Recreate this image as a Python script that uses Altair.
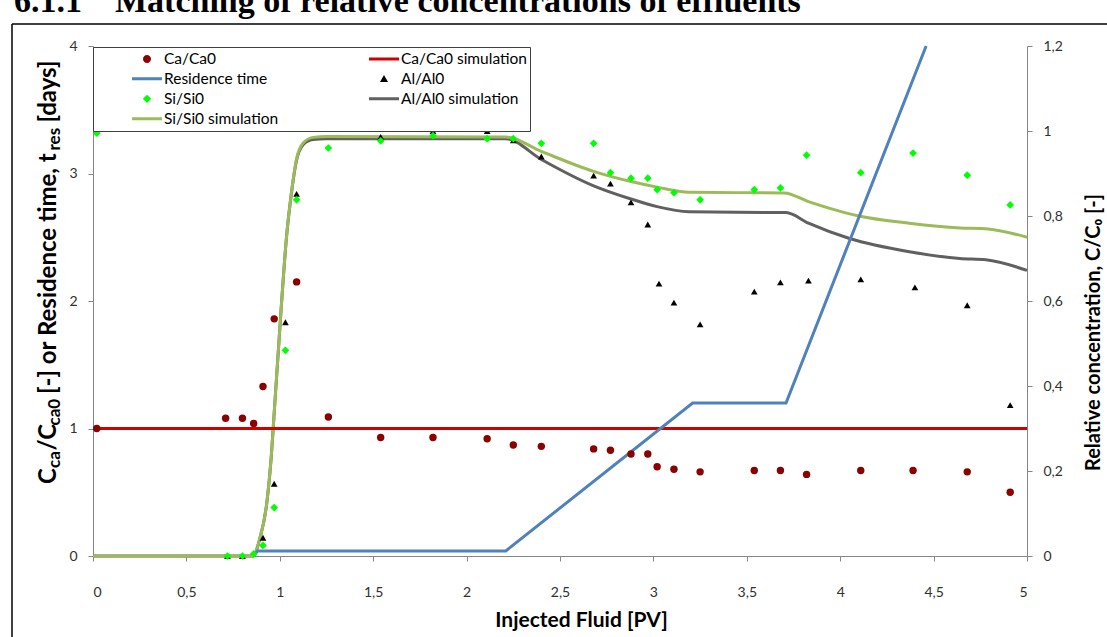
import altair as alt
import pandas as pd

FONT = "Lato"

# ---------------- data ----------------
ca_x = [0.02, 0.71, 0.80, 0.86, 0.91, 0.97, 1.09, 1.26, 1.54, 1.82, 2.11, 2.25, 2.40, 2.68,
        2.77, 2.88, 2.97, 3.02, 3.11, 3.25, 3.54, 3.68, 3.82, 4.11, 4.39, 4.68, 4.91]
ca_y = [1.00, 1.08, 1.08, 1.04, 1.33, 1.86, 2.15, 1.09, 0.93, 0.93, 0.92, 0.87, 0.86, 0.84,
        0.83, 0.80, 0.80, 0.70, 0.68, 0.66, 0.67, 0.67, 0.64, 0.67, 0.67, 0.66, 0.50]

si_x = [0.02, 0.72, 0.80, 0.86, 0.91, 0.97, 1.03, 1.09, 1.26, 1.54, 1.82, 2.11, 2.25, 2.40,
        2.68, 2.77, 2.88, 2.97, 3.02, 3.11, 3.25, 3.54, 3.68, 3.82, 4.11, 4.39, 4.68, 4.91]
si_y = [0.995, 0.0, 0.0, 0.005, 0.025, 0.114, 0.484, 0.838, 0.96, 0.977, 0.989, 0.982, 0.982,
        0.971, 0.971, 0.902, 0.889, 0.889, 0.862, 0.855, 0.838, 0.862, 0.866, 0.943, 0.902,
        0.948, 0.896, 0.826]

al_x = [0.72, 0.80, 0.91, 0.97, 1.03, 1.09, 1.54, 1.82, 2.11, 2.25, 2.40, 2.68, 2.77, 2.88,
        2.97, 3.03, 3.11, 3.25, 3.54, 3.68, 3.83, 4.11, 4.40, 4.68, 4.91]
al_y = [0.0, 0.0, 0.043, 0.17, 0.55, 0.852, 0.986, 1.0, 1.0, 0.978, 0.94, 0.895, 0.876, 0.832,
        0.78, 0.641, 0.596, 0.545, 0.622, 0.644, 0.648, 0.651, 0.632, 0.59, 0.355]

si_sim_x = [0, 0.857, 0.893, 0.929, 0.955, 0.973, 0.991, 1.009, 1.036, 1.062, 1.089, 1.125,
            1.178, 1.25, 2.21, 2.40, 2.68, 2.88, 3.02, 3.19, 3.70, 3.83, 4.10, 4.37, 4.64,
            4.78, 5.0]
si_sim_y = [0, 0, 0.041, 0.12, 0.238, 0.357, 0.475, 0.593, 0.751, 0.854, 0.933, 0.972,
            0.985, 0.987, 0.986, 0.952, 0.905, 0.881, 0.868, 0.856, 0.854, 0.834, 0.800,
            0.783, 0.772, 0.770, 0.750]

al_sim_x = [0, 0.857, 0.893, 0.929, 0.955, 0.973, 0.991, 1.009, 1.036, 1.062, 1.089, 1.125,
            1.178, 1.25, 2.21, 2.40, 2.68, 2.88, 3.02, 3.19, 3.71, 3.83, 4.05, 4.37, 4.64,
            4.78, 5.0]
al_sim_y = [0, 0, 0.041, 0.12, 0.238, 0.357, 0.475, 0.593, 0.751, 0.853, 0.930, 0.968,
            0.980, 0.982, 0.982, 0.933, 0.871, 0.840, 0.822, 0.810, 0.808, 0.783, 0.747,
            0.716, 0.700, 0.697, 0.672]

res_x = [0.86, 0.88, 2.21, 3.21, 3.71, 4.46]
res_y = [0.0, 0.04, 0.04, 1.2, 1.2, 4.0]

ca_sim_x = [0.0, 5.0]
ca_sim_y = [1.0, 1.0]

x_ticks = [0, 0.5, 1, 1.5, 2, 2.5, 3, 3.5, 4, 4.5, 5]
left_ticks = [0, 1, 2, 3, 4]
right_ticks = [0, 0.2, 0.4, 0.6, 0.8, 1.0, 1.2]

# legend entries, in column order (left column first)
leg_names = ["Ca/Ca0", "Residence time", "Si/Si0", "Si/Si0 simulation",
             "Ca/Ca0 simulation", "Al/Al0", "Al/Al0 simulation"]
leg_colors = ["#8B0000", "#4F81BD", "#00FF00", "#9BBB59", "#D00000", "#000000", "#606060"]

# ---------------- styling ----------------
C_CA_PT = "#8B0000"
C_CA_SIM = "#D00000"
C_RES = "#4F81BD"
C_SI_PT = "#00FF00"
C_SI_SIM = "#9BBB59"
C_AL_PT = "#000000"
C_AL_SIM = "#606060"
AXIS_GRAY = "#868686"

W, H = 934, 510


def df(xs, ys):
    return pd.DataFrame({"x": xs, "y": ys})


xscale = alt.Scale(domain=[0, 5], nice=False, zero=False)
lscale = alt.Scale(domain=[0, 4], nice=False, zero=False)
rscale = alt.Scale(domain=[0, 1.2], nice=False, zero=False)

common_axis = dict(grid=False, domainColor=AXIS_GRAY, tickColor=AXIS_GRAY, tickSize=5,
                   labelFont=FONT, labelFontSize=14, labelColor="#303030",
                   titleFont=FONT, titleColor="black", titleFontWeight="bold")

x_axis = alt.Axis(values=x_ticks, format=".1~f", labelExpr="replace(datum.label, '.', ',')",
                  labelPadding=24, title="Injected Fluid [PV]", titleFontSize=21,
                  titleX=488, titleY=64, titleBaseline="middle", titleAlign="center",
                  **common_axis)
X = alt.X("x:Q", scale=xscale, axis=x_axis)

left_axis = alt.Axis(orient="left", values=left_ticks, format="d", labelPadding=11,
                     title=None, **common_axis)
right_axis = alt.Axis(orient="right", values=right_ticks, format=".1~f",
                      labelExpr="replace(datum.label, '.', ',')", labelPadding=11,
                      title="Relative concentration, C/C\u2080 [-]", titleFontSize=20,
                      titleAngle=270, titleX=66, titleY=286, titleAlign="center",
                      titleBaseline="middle", **common_axis)
YL = alt.Y("y:Q", scale=lscale, axis=left_axis)
YR = alt.Y("y:Q", scale=rscale, axis=right_axis)

# --- lines on the right (relative concentration) axis
si_sim = alt.Chart(df(si_sim_x, si_sim_y)).mark_line(
    color=C_SI_SIM, strokeWidth=3, interpolate="monotone").encode(x=X, y=YR)
al_sim = alt.Chart(df(al_sim_x, al_sim_y)).mark_line(
    color=C_AL_SIM, strokeWidth=3, interpolate="monotone").encode(x=X, y=YR)
right_lines = alt.layer(al_sim, si_sim)

# --- lines on the left axis
ca_sim = alt.Chart(df(ca_sim_x, ca_sim_y)).mark_line(color=C_CA_SIM, strokeWidth=3).encode(
    x=X, y=YL)
res = alt.Chart(df(res_x, res_y)).mark_line(color=C_RES, strokeWidth=3).encode(x=X, y=YL)
left_lines = alt.layer(ca_sim, res)

# --- legend (symbols drawn by the legend itself)
LINE = "M0.104,-0.045L1,-0.045L1,0.045L0.104,0.045Z"
CIRC = "M0.672,0A0.12,0.12,0,1,1,0.432,0A0.12,0.12,0,1,1,0.672,0Z"
TRI = "M0.552,-0.115L0.672,0.095L0.432,0.095Z"
DIAM = "M0.552,-0.125L0.677,0L0.552,0.125L0.427,0Z"
leg_shapes = [CIRC, LINE, DIAM, LINE, LINE, TRI, LINE]
SYM = 4489

leg = alt.Legend(title=None, orient="none", legendX=0, legendY=1, columns=2,
                 columnPadding=53, rowPadding=0, clipHeight=19.7, padding=2,
                 strokeColor="#404040", fillColor="white", labelFont=FONT, labelFontSize=15.5,
                 labelColor="black", labelOffset=2, symbolSize=SYM, symbolStrokeWidth=0,
                 labelLimit=400, cornerRadius=0)
legend_layer = alt.Chart(pd.DataFrame({"series": leg_names})).mark_point(
    filled=True, opacity=1, size=SYM, strokeWidth=0).encode(
    color=alt.Color("series:N", scale=alt.Scale(domain=leg_names, range=leg_colors), legend=leg),
    shape=alt.Shape("series:N", scale=alt.Scale(domain=leg_names, range=leg_shapes), legend=leg),
).transform_filter("false")

# --- points
si_pts = alt.Chart(df(si_x, si_y)).mark_point(
    shape="diamond", filled=True, color=C_SI_PT, size=60, opacity=1).encode(
    x=X, y=alt.Y("y:Q", scale=rscale, axis=None))
al_pts = alt.Chart(df(al_x, al_y)).mark_point(
    shape="triangle-up", filled=True, color=C_AL_PT, size=45, opacity=1).encode(
    x=X, y=alt.Y("y:Q", scale=rscale, axis=None))
right_pts = alt.layer(al_pts, si_pts)

ca_pts = alt.Chart(df(ca_x, ca_y)).mark_point(
    shape="circle", filled=True, color=C_CA_PT, size=55, opacity=1).encode(
    x=X, y=alt.Y("y:Q", scale=lscale, axis=None))

# --- left axis title with subscripts (rotated text pieces)
MAIN_FS, SUB_FS = 24, 17
seg_text = ["C", "ca", "/C", "ca0", "[-] or Residence time, t", "res", "[days]"]
seg_y = [438, 422, 404.5, 379.5, 348, 104.5, 76.5]
seg_sub = [False, True, False, True, False, True, False]
title_layers = []
for t, yy, sub in zip(seg_text, seg_y, seg_sub):
    title_layers.append(
        alt.Chart(pd.DataFrame({"t": [t]})).mark_text(
            font=FONT, fontWeight="bold", fontSize=SUB_FS if sub else MAIN_FS, angle=270,
            align="left", baseline="alphabetic", color="black").encode(
            text="t:N", x=alt.value(-33 if sub else -37.5), y=alt.value(yy)))

# --- page heading (cut off at the top, as in the source page) and frame
heading = [
    alt.Chart(pd.DataFrame({"t": ["6.1.1"]})).mark_text(
        font="Liberation Serif", fontWeight="bold", fontSize=34, align="left",
        baseline="alphabetic", color="black").encode(
        text="t:N", x=alt.value(-79), y=alt.value(-34)),
    alt.Chart(pd.DataFrame({"t": ["Matching of relative concentrations of effluents"]})).mark_text(
        font="Liberation Serif", fontWeight="bold", fontSize=34, align="left",
        baseline="alphabetic", color="black").encode(
        text="t:N", x=alt.value(22), y=alt.value(-34)),
]
one = pd.DataFrame({"k": [0]})
frame_h = alt.Chart(one).mark_rule(color="#000000", strokeWidth=1.5).encode(
    x=alt.value(-81), x2=alt.value(W + 100), y=alt.value(-22))
frame_v = alt.Chart(one).mark_rule(color="#000000", strokeWidth=1.5).encode(
    x=alt.value(-81), y=alt.value(-22), y2=alt.value(H + 100))

chart = alt.layer(
    right_lines, left_lines, right_pts, ca_pts, legend_layer,
    *title_layers, *heading, frame_h, frame_v
).resolve_scale(y="independent").properties(
    width=W, height=H,
    padding={"left": 93, "top": 46, "right": 1107 - 93 - W, "bottom": 637 - 46 - H},
    autosize=alt.AutoSizeParams(type="none"),
    background="white",
).configure_view(stroke=None)

chart.save("out.html", embed_options={"renderer": "svg", "actions": False})
